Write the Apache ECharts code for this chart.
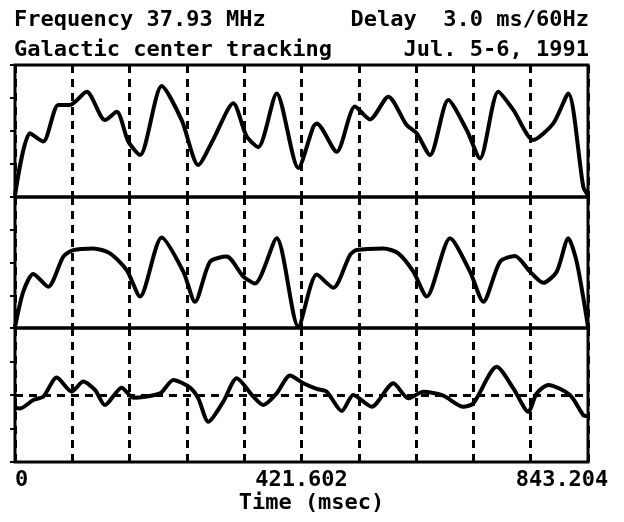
<!DOCTYPE html>
<html><head><meta charset="utf-8">
<script src="https://cdn.jsdelivr.net/npm/echarts@6/dist/echarts.min.js"></script>
<style>html,body{margin:0;padding:0;background:#fff}#c{width:624px;height:522px}</style>
</head><body><div id="c"></div>
<script>
// ---- text ----
const headerTopLeft = 'Frequency 37.93 MHz';
const headerTopRight = 'Delay  3.0 ms/60Hz';
const headerBottomLeft = 'Galactic center tracking';
const headerBottomRight = 'Jul. 5-6, 1991';
const xAxisTitle = 'Time (msec)';
const xTickLabels = ['0', '421.602', '843.204'];
const xMax = 843.204;

// ---- panel 1 (top) ----
const time1 = [0, 22, 41.6, 63.7, 80.9, 105.5, 132.4, 149.7, 166.7, 184, 215.9, 245.3, 269.7, 291.4, 321.2, 341, 358, 385.1, 416.9, 439, 444, 473.4, 500.3, 522.4, 549.4, 576.4, 591.1, 610.7, 637.6, 664.7, 684.3, 711.2, 733.3, 762.7, 792.2, 814.2, 836.3, 843.204];
const panel1 = [0.05, 1.93, 1.68, 2.79, 2.79, 3.19, 2.33, 2.58, 1.68, 1.27, 3.36, 2.33, 0.97, 1.73, 2.84, 1.83, 1.51, 3.14, 0.88, 2.13, 2.23, 1.37, 2.74, 2.35, 3.04, 2.18, 1.93, 1.27, 2.94, 2.03, 1.17, 3.19, 2.64, 1.73, 2.23, 3.14, 0.31, 0.05];

// ---- panel 2 (middle) ----
const time2 = [0, 12.2, 26.9, 49, 71.1, 85.8, 115.2, 139.8, 164.4, 184, 215.9, 247.7, 264.9, 286.9, 311.5, 336, 353.2, 385.1, 416.9, 444, 468.4, 493, 502.8, 542, 564, 586.2, 605.9, 640.2, 669.6, 689.2, 713.7, 735.8, 757.9, 777.4, 797.2, 814.2, 826.6, 843.204];
const panel2 = [0.02, 1.11, 1.65, 1.26, 2.18, 2.38, 2.43, 2.28, 1.77, 0.96, 2.76, 1.72, 0.80, 2.02, 2.18, 1.57, 1.36, 2.74, 0.04, 1.63, 1.23, 2.23, 2.38, 2.43, 2.28, 1.72, 0.96, 2.74, 1.72, 0.80, 2.02, 2.20, 1.72, 1.38, 1.72, 2.74, 2.02, 0.04];

// ---- panel 3 (bottom) ----
const time3 = [0, 7.4, 26.9, 41.6, 61.4, 83.4, 100.5, 117.7, 132.4, 157, 174.1, 213.4, 233, 257.5, 269.7, 284.5, 306.5, 326.3, 350.7, 365.4, 385.1, 404.7, 424.3, 444, 458.7, 480.8, 497.8, 524.9, 556.7, 578.8, 600.9, 630.3, 659.7, 674.4, 708.9, 733.3, 755.4, 767.7, 784.8, 816.7, 836.3, 843.204];
const panel3 = [1.61, 1.60, 1.85, 1.95, 2.52, 2.10, 2.40, 2.15, 1.70, 2.22, 1.92, 2.05, 2.45, 2.22, 1.90, 1.20, 1.80, 2.50, 1.95, 1.70, 2.05, 2.58, 2.35, 2.18, 2.10, 1.52, 2.00, 1.65, 2.35, 1.90, 2.10, 1.98, 1.65, 1.75, 2.84, 2.20, 1.50, 2.05, 2.30, 2.00, 1.40, 1.37];
const panel3Reference = 2;

const zip = (a, b) => a.map((t, i) => [t, b[i]]);
const FONT = 'DejaVu Sans Mono';
const txt = { fontFamily: FONT, fontWeight: 'bold', fontSize: 22, color: '#000' };

const grids = [
  { left: 15, width: 573, top: 65, height: 132 },
  { left: 15, width: 573, top: 197, height: 131 },
  { left: 15, width: 573, top: 328, height: 134 }
].map(g => Object.assign(g, {
  show: true, borderColor: '#000', borderWidth: 3, backgroundColor: 'transparent',
  containLabel: false, outerBoundsMode: 'none'
}));

const dashed = { color: '#000', width: 3, type: [8, 6] };

const xAxes = [0, 1, 2].map(i => ({
  type: 'value', gridIndex: i, min: 0, max: xMax, interval: xMax / 10,
  axisLine: { show: false },
  axisTick: { show: true, inside: true, length: 5, lineStyle: { color: '#000', width: 2 } },
  splitLine: { show: true, lineStyle: dashed },
  axisLabel: i === 2 ? {
    show: true, margin: 7, ...txt,
    alignMinLabel: 'left', alignMaxLabel: 'center',
    formatter: v => {
      const k = xTickLabels.findIndex(s => Math.abs(parseFloat(s) - v) < 0.01);
      if (k < 0) return '';
      return k === xTickLabels.length - 1 ? '{r|' + xTickLabels[k] + '}' : xTickLabels[k];
    },
    rich: { r: { ...txt, padding: [0, 52, 0, 0] } }
  } : { show: false },
  name: i === 2 ? xAxisTitle : '',
  nameLocation: 'middle', nameGap: 27,
  nameTextStyle: { ...txt, padding: [0, 0, 0, 20] }
}));

const yAxes = [0, 1, 2].map(i => ({
  type: 'value', gridIndex: i, min: 0, max: 4, interval: 1,
  axisLine: { show: false },
  axisTick: { show: true, inside: false, length: 5, lineStyle: { color: '#000', width: 2 } },
  axisLabel: { show: false },
  splitLine: { show: false }
}));

const lineSeries = (i, data) => ({
  type: 'line', xAxisIndex: i, yAxisIndex: i, data,
  showSymbol: false, symbol: 'none', smooth: 0.25,
  lineStyle: { color: '#000', width: 4 },
  silent: true, animation: false
});

const s3 = lineSeries(2, zip(time3, panel3));
s3.markLine = {
  silent: true, symbol: 'none', label: { show: false },
  lineStyle: { color: '#000', width: 3, type: [8, 6] },
  data: [{ yAxis: panel3Reference }]
};

const chart = echarts.init(document.getElementById('c'));
chart.setOption({
  animation: false,
  backgroundColor: '#fff',
  title: [
    { text: headerTopLeft, left: 14, top: 9, padding: 0, textStyle: txt },
    { text: headerTopRight, right: 35, top: 9, padding: 0, textStyle: txt },
    { text: headerBottomLeft, left: 14, top: 39, padding: 0, textStyle: txt },
    { text: headerBottomRight, right: 35, top: 39, padding: 0, textStyle: txt }
  ],
  grid: grids,
  xAxis: xAxes,
  yAxis: yAxes,
  series: [
    lineSeries(0, zip(time1, panel1)),
    lineSeries(1, zip(time2, panel2)),
    s3
  ]
});
</script></body></html>
